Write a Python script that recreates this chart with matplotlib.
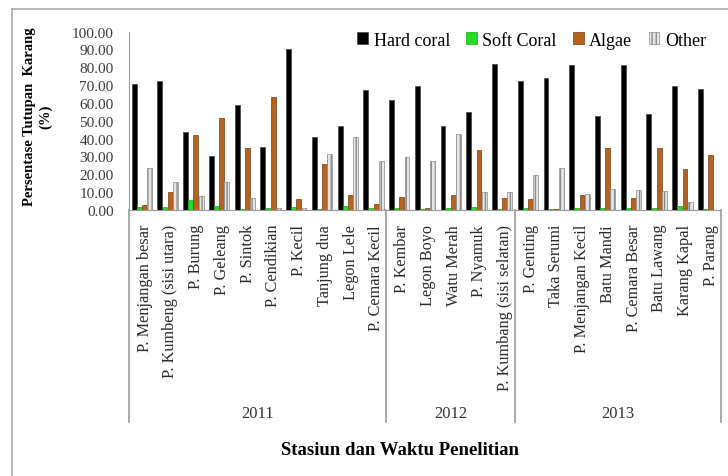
import numpy as np
import matplotlib
matplotlib.use('Agg')
import matplotlib.pyplot as plt
from matplotlib.lines import Line2D

plt.rcParams['font.family'] = ['Liberation Serif', 'DejaVu Serif']
plt.rcParams['hatch.color'] = '#9a9a9a'

# stations per year
stations = ['P. Menjangan besar', 'P. Kumbeng (sisi utara)', 'P. Burung', 'P. Geleang',
            'P. Sintok', 'P. Cendikian', 'P. Kecil', 'Tanjung dua', 'Legon Lele',
            'P. Cemara Kecil',
            'P. Kembar', 'Legon Boyo', 'Watu Merah', 'P. Nyamuk',
            'P. Kumbang (sisi selatan)',
            'P. Genting', 'Taka Serumi', 'P. Menjangan Kecil', 'Batu Mandi',
            'P. Cemara Besar', 'Batu Lawang', 'Karang Kapal', 'P. Parang']
years = ['2011', '2012', '2013']
year_counts = [10, 5, 8]

hard_coral = [70.5, 72.0, 43.6, 30.3, 59.0, 35.5, 90.3, 41.1, 47.1, 67.3,
              61.9, 69.4, 47.1, 54.8, 81.9,
              72.2, 73.7, 81.0, 52.5, 81.0, 53.7, 69.7, 68.0]
soft_coral = [1.5, 1.5, 5.6, 2.0, 0.3, 1.0, 1.5, 0.5, 2.0, 1.0,
              1.0, 0.5, 1.0, 1.5, 0.5,
              1.0, 0.5, 1.0, 1.0, 1.0, 1.0, 2.0, 0.5]
algae = [3.0, 10.3, 42.2, 51.8, 35.0, 63.4, 6.0, 25.6, 8.4, 3.2,
         7.5, 1.0, 8.4, 33.6, 6.5,
         6.2, 0.5, 8.6, 34.6, 6.7, 34.6, 23.0, 30.8]
other = [23.7, 15.5, 7.7, 15.9, 6.5, 1.0, 1.0, 31.4, 41.1, 27.7,
         29.9, 27.7, 42.6, 10.3, 10.3,
         19.8, 23.7, 9.0, 11.8, 11.2, 10.5, 4.3, 0.0]

W, H = 728, 477
fig = plt.figure(figsize=(W / 100, H / 100), dpi=100)
ax = fig.add_axes([129 / W, 1 - 211 / H, (721 - 129) / W, (211 - 32.5) / H])

x = np.arange(len(stations))
bw = 0.2
ax.bar(x - 0.3, hard_coral, bw * 0.95, color='black', edgecolor='#444444', lw=0.5, label='Hard coral')
ax.bar(x - 0.1, soft_coral, bw * 0.95, color='#22dd22', edgecolor='#11aa11', lw=0.5, label='Soft Coral')
ax.bar(x + 0.1, algae, bw * 0.95, color='#b8621f', edgecolor='#7a3d10', lw=0.5, label='Algae')
ax.bar(x + 0.3, other, bw * 0.95, color='#e6e6e6', edgecolor='#8a8a8a', lw=0.5,
       hatch='||||', label='Other')

ax.set_xlim(-0.5, len(stations) - 0.5)
ax.set_ylim(0, 100)
ax.set_yticks(np.arange(0, 101, 10))
ax.set_yticklabels([f'{v:.2f}' for v in np.arange(0, 101, 10)], fontsize=11, color='#3a3a3a')
ax.tick_params(axis='y', length=0, pad=11)
ax.set_xticks([])
for s in ['top', 'right']:
    ax.spines[s].set_visible(False)
ax.spines['left'].set_color('#999999')
ax.spines['bottom'].set_color('#999999')

# station labels
for i, name in enumerate(stations):
    ax.annotate(name, (i, 0), xytext=(2, -10), textcoords='offset points',
                rotation=90, ha='center', va='top', fontsize=11.7, color='#2a2a2a',
                annotation_clip=False)

# year separators and labels
bounds = np.concatenate([[0], np.cumsum(year_counts)]) - 0.5
for b in bounds:
    ax.add_line(Line2D([b, b], [0, -119], color='#999999', lw=1.2, clip_on=False))
for k, yr in enumerate(years):
    ax.text((bounds[k] + bounds[k + 1]) / 2, -113.5, yr, ha='center', va='center',
            fontsize=12, color='#333333', clip_on=False)

fig.text(400 / W, 1 - 451 / H, 'Stasiun dan Waktu Penelitian', ha='center', va='center',
         fontsize=13.5, fontweight='bold')
fig.text(30 / W, 1 - 117 / H, 'Persentase Tutupan  Karang', rotation=90, ha='center',
         va='center', fontsize=10.5, fontweight='bold')
fig.text(46 / W, 1 - 117 / H, '(%)', rotation=90, ha='center', va='center',
         fontsize=10.5, fontweight='bold')

ax.legend(ncol=4, frameon=False, loc='center right', fontsize=13,
          bbox_to_anchor=(706 / W, 1 - 41 / H), bbox_transform=fig.transFigure,
          handlelength=0.6, handleheight=0.6, handletextpad=0.3, columnspacing=0.9,
          borderpad=0, borderaxespad=0)

# outer frame
fig.add_artist(Line2D([12 / W, 1], [1 - 10 / H, 1 - 10 / H], color='#aaaaaa', lw=1.2))
fig.add_artist(Line2D([12 / W, 12 / W], [0, 1 - 10 / H], color='#aaaaaa', lw=1.2))

fig.savefig('out.png', dpi=100)
